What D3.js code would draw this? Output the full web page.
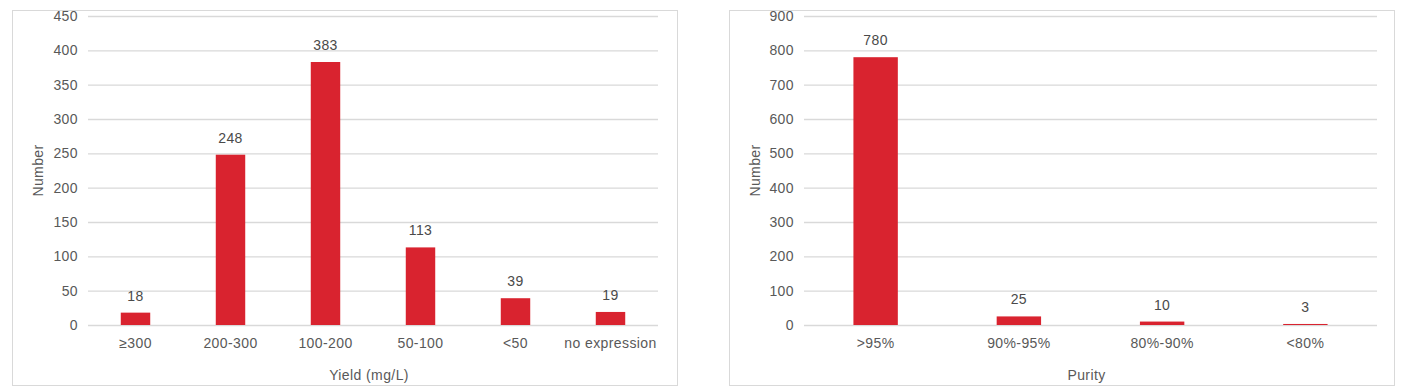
<!DOCTYPE html>
<html>
<head>
<meta charset="utf-8">
<script src="https://cdn.jsdelivr.net/npm/d3@7"></script>
<style>
  body { margin: 0; background: #fff; }
  svg text { font-family: "Liberation Sans", Arial, sans-serif; fill: #595959; letter-spacing: 0.4px; }
</style>
</head>
<body>
<svg id="chart" width="1404" height="392"></svg>
<script>
// Yield chart data
const yieldCategories = ['≥300', '200-300', '100-200', '50-100', '<50', 'no expression'];
const yieldValues = [18, 248, 383, 113, 39, 19];
const yieldTicks = [0, 50, 100, 150, 200, 250, 300, 350, 400, 450];

// Purity chart data
const purityCategories = ['>95%', '90%-95%', '80%-90%', '<80%'];
const purityValues = [780, 25, 10, 3];
const purityTicks = [0, 100, 200, 300, 400, 500, 600, 700, 800, 900];

const svg = d3.select('#chart');
const barColor = '#d9232f';
const gridColor = '#d9d9d9';
const fontSize = 14;

function drawPanel(opts) {
    const { box, plot, categories, values, ticks, xTitle } = opts;

    // outer frame
    svg.append('rect')
        .attr('x', box.x + 0.5).attr('y', box.y + 0.5)
        .attr('width', box.w).attr('height', box.h)
        .attr('fill', '#fff').attr('stroke', gridColor).attr('stroke-width', 1);

    const x = d3.scaleBand()
        .domain(categories)
        .range([plot.left, plot.right])
        .paddingInner(0.69).paddingOuter(0.345);

    const y = d3.scaleLinear()
        .domain([0, ticks[ticks.length - 1]])
        .range([plot.bottom, plot.top]);

    // gridlines + y labels
    const yAxis = d3.axisLeft(y).tickValues(ticks).tickSize(-(plot.right - plot.left)).tickPadding(10);
    const gy = svg.append('g')
        .attr('transform', `translate(${plot.left},0)`)
        .call(yAxis);
    gy.select('.domain').remove();
    gy.selectAll('.tick line').attr('stroke', gridColor).attr('stroke-width', 1.3);
    gy.selectAll('.tick text').attr('font-size', fontSize).style('fill', '#595959');

    // bars
    svg.append('g').selectAll('rect')
        .data(values)
        .join('rect')
        .attr('x', (d, i) => x(categories[i]))
        .attr('y', d => y(d))
        .attr('width', x.bandwidth())
        .attr('height', d => y(0) - y(d))
        .attr('fill', barColor);

    // value labels
    svg.append('g').selectAll('text')
        .data(values)
        .join('text')
        .attr('x', (d, i) => x(categories[i]) + x.bandwidth() / 2)
        .attr('y', d => y(d) - 12)
        .attr('text-anchor', 'middle')
        .attr('font-size', fontSize)
        .style('fill', '#4a4a4a')
        .text(d => d);

    // x labels
    const xAxis = d3.axisBottom(x).tickSize(0).tickPadding(13);
    const gx = svg.append('g')
        .attr('transform', `translate(0,${plot.bottom})`)
        .call(xAxis);
    gx.select('.domain').remove();
    gx.selectAll('.tick text').attr('font-size', fontSize).style('fill', '#595959');

    // axis titles
    svg.append('text')
        .attr('x', (plot.left + plot.right) / 2 - 4)
        .attr('y', box.y + box.h - 5)
        .attr('text-anchor', 'middle')
        .attr('font-size', fontSize)
        .text(xTitle);

    svg.append('text')
        .attr('transform', `translate(${opts.yTitleX},${(plot.top + plot.bottom) / 2}) rotate(-90)`)
        .attr('text-anchor', 'middle')
        .attr('dy', '0.35em')
        .attr('font-size', fontSize)
        .text('Number');
}

drawPanel({
    box: { x: 12, y: 10, w: 665, h: 375 },
    plot: { left: 88, right: 658, top: 16, bottom: 325 },
    categories: yieldCategories,
    values: yieldValues,
    ticks: yieldTicks,
    xTitle: 'Yield (mg/L)',
    yTitleX: 38
});

drawPanel({
    box: { x: 729, y: 10, w: 665, h: 375 },
    plot: { left: 804, right: 1377, top: 16, bottom: 325 },
    categories: purityCategories,
    values: purityValues,
    ticks: purityTicks,
    xTitle: 'Purity',
    yTitleX: 755
});
</script>
</body>
</html>
